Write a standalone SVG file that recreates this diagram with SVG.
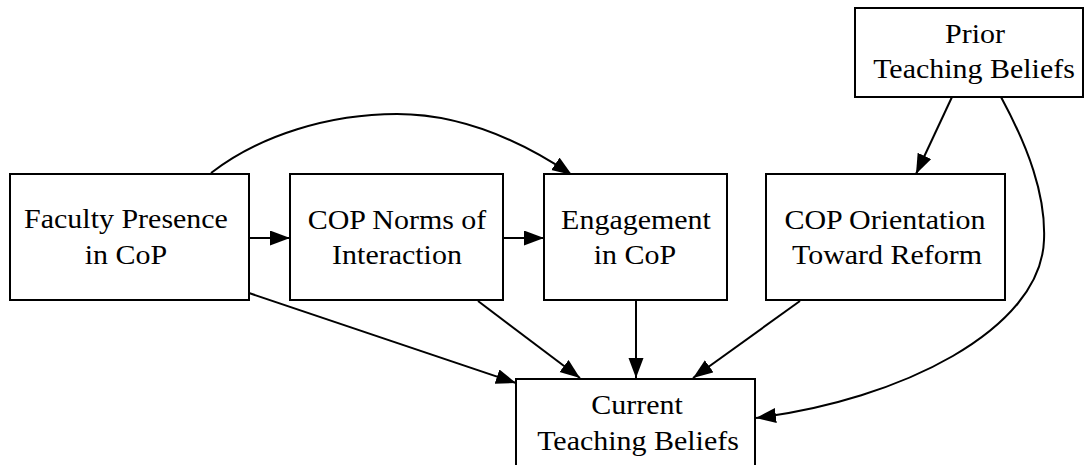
<svg xmlns="http://www.w3.org/2000/svg" width="1086" height="465" viewBox="0 0 1086 465">
<style>
.box{fill:#fff;stroke:#000;stroke-width:2}
.lbl{font-family:"Liberation Serif","Times New Roman",serif;font-size:27px;fill:#000;text-anchor:middle}
.edge{fill:none;stroke:#000;stroke-width:2}
</style>
<defs>
<marker id="arr" markerUnits="userSpaceOnUse" markerWidth="22" markerHeight="18" refX="20" refY="7.5" orient="auto">
<path d="M0,0 L20,7.5 L0,15 z" fill="#000"/>
</marker>
</defs>
<rect width="1086" height="465" fill="#fff"/>
<g id="connectors">
<path class="edge" marker-end="url(#arr)" d="M249,238 L290,238"/>
<path class="edge" marker-end="url(#arr)" d="M503,238 L544,238"/>
<path class="edge" marker-end="url(#arr)" d="M211,173 C260,135 330,114 397,114 C460,114 520,140 572,175"/>
<path class="edge" marker-end="url(#arr)" d="M249,293 L516,383"/>
<path class="edge" marker-end="url(#arr)" d="M478,301 L580,378"/>
<path class="edge" marker-end="url(#arr)" d="M636,301 L636,378"/>
<path class="edge" marker-end="url(#arr)" d="M800,301 L693,378"/>
<path class="edge" marker-end="url(#arr)" d="M952,97 L916,174"/>
<path class="edge" marker-end="url(#arr)" d="M1001,97 C1028,147 1046,195 1044,240 C1041,330 900,400 756,418"/>
</g>
<g id="faculty">
<rect class="box" x="10" y="174" width="239" height="126"/>
<text class="lbl" transform="translate(126,228) scale(1.11,1)">Faculty Presence</text>
<text class="lbl" transform="translate(126,264) scale(1.11,1)">in CoP</text>
</g>
<g id="norms">
<rect class="box" x="290" y="174" width="213" height="126"/>
<text class="lbl" transform="translate(397,229) scale(1.11,1)">COP Norms of</text>
<text class="lbl" transform="translate(397,264) scale(1.11,1)">Interaction</text>
</g>
<g id="engagement">
<rect class="box" x="544" y="174" width="183" height="126"/>
<text class="lbl" transform="translate(636,229) scale(1.11,1)">Engagement</text>
<text class="lbl" transform="translate(635,264) scale(1.11,1)">in CoP</text>
</g>
<g id="orientation">
<rect class="box" x="766" y="174" width="239" height="126"/>
<text class="lbl" transform="translate(885,229) scale(1.11,1)">COP Orientation</text>
<text class="lbl" transform="translate(887,264) scale(1.11,1)">Toward Reform</text>
</g>
<g id="prior">
<rect class="box" x="855" y="8" width="228" height="89"/>
<text class="lbl" transform="translate(975,43) scale(1.11,1)">Prior</text>
<text class="lbl" transform="translate(974,78) scale(1.11,1)">Teaching Beliefs</text>
</g>
<g id="current">
<rect class="box" x="516" y="379" width="239" height="110"/>
<text class="lbl" transform="translate(637,414) scale(1.11,1)">Current</text>
<text class="lbl" transform="translate(638,450) scale(1.11,1)">Teaching Beliefs</text>
</g>
</svg>
